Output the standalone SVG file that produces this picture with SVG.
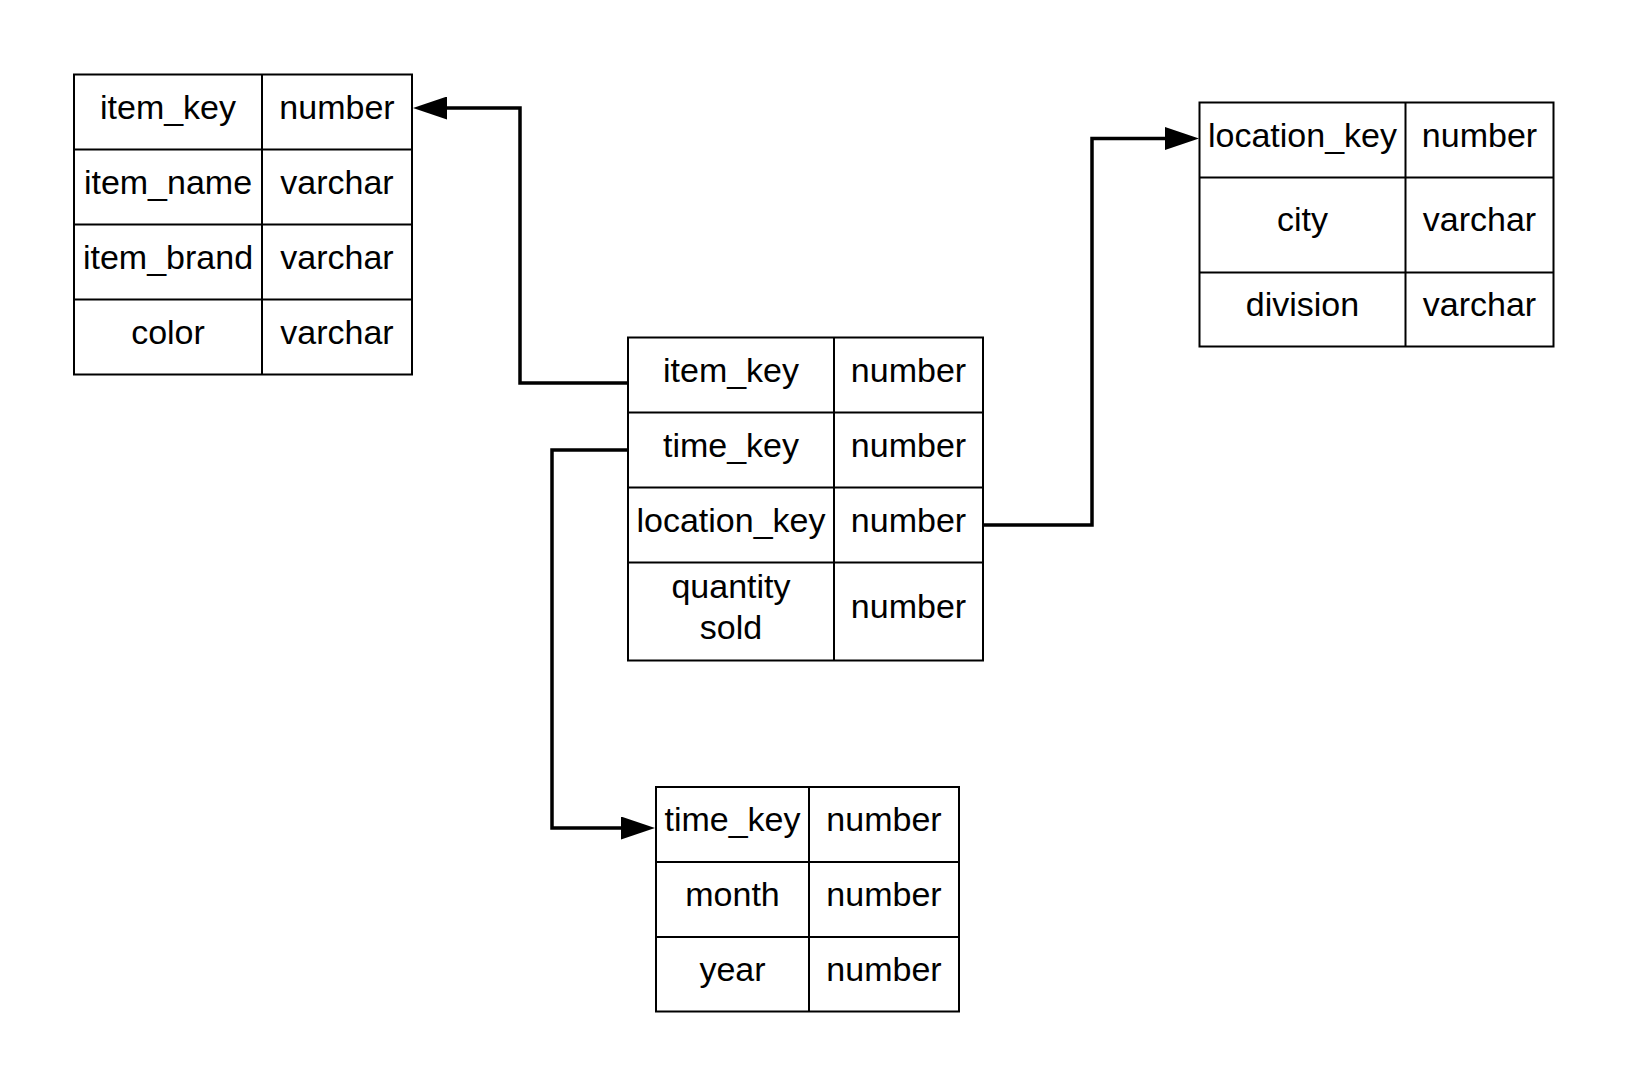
<svg xmlns="http://www.w3.org/2000/svg" width="1631" height="1088" viewBox="0 0 1631 1088">
  <style>
    .tbl { fill: #ffffff; stroke: #000000; stroke-width: 2; }
    .grid { stroke: #000000; stroke-width: 2; fill: none; }
    .t { font-family: "Liberation Sans", Arial, sans-serif; font-size: 34px; text-anchor: middle; fill: #000000; }
    .conn { fill: none; stroke: #000000; stroke-width: 3.5; stroke-linejoin: miter; }
  </style>
  <defs>
    <marker id="arrow" markerUnits="userSpaceOnUse" markerWidth="34" markerHeight="23" viewBox="0 0 34 23" refX="0" refY="11.5" orient="auto">
      <path d="M0,0 L34,11.5 L0,23 z" fill="#000000"/>
    </marker>
  </defs>
  <rect width="1631" height="1088" fill="#ffffff"/>

  <g id="connectors">
    <path class="conn" d="M628,383 H520 V108 H447" marker-end="url(#arrow)"/>
    <path class="conn" d="M983,525 H1092 V138.5 H1165" marker-end="url(#arrow)"/>
    <path class="conn" d="M628,450 H552 V828 H621" marker-end="url(#arrow)"/>
  </g>

  <g id="item">
    <rect class="tbl" x="74" y="74.5" width="338" height="300"/>
    <path class="grid" d="M262,74.5 V374.5 M74,149.5 H412 M74,224.5 H412 M74,299.5 H412"/>
    <text class="t" x="168" y="118.5">item_key</text>
    <text class="t" x="337" y="118.5">number</text>
    <text class="t" x="168" y="193.5">item_name</text>
    <text class="t" x="337" y="193.5">varchar</text>
    <text class="t" x="168" y="268.5">item_brand</text>
    <text class="t" x="337" y="268.5">varchar</text>
    <text class="t" x="168" y="343.5">color</text>
    <text class="t" x="337" y="343.5">varchar</text>
  </g>

  <g id="sales">
    <rect class="tbl" x="628" y="337.5" width="355" height="323"/>
    <path class="grid" d="M834,337.5 V660.5 M628,412.5 H983 M628,487.5 H983 M628,562.5 H983"/>
    <text class="t" x="731" y="381.5">item_key</text>
    <text class="t" x="908.5" y="381.5">number</text>
    <text class="t" x="731" y="456.5">time_key</text>
    <text class="t" x="908.5" y="456.5">number</text>
    <text class="t" x="731" y="531.5">location_key</text>
    <text class="t" x="908.5" y="531.5">number</text>
    <text class="t" x="731" y="598">quantity</text>
    <text class="t" x="731" y="638.5">sold</text>
    <text class="t" x="908.5" y="618">number</text>
  </g>

  <g id="location">
    <rect class="tbl" x="1199.5" y="102.5" width="354" height="244"/>
    <path class="grid" d="M1405.5,102.5 V346.5 M1199.5,177.5 H1553.5 M1199.5,272.5 H1553.5"/>
    <text class="t" x="1302.5" y="146.5">location_key</text>
    <text class="t" x="1479.5" y="146.5">number</text>
    <text class="t" x="1302.5" y="231">city</text>
    <text class="t" x="1479.5" y="231">varchar</text>
    <text class="t" x="1302.5" y="316">division</text>
    <text class="t" x="1479.5" y="316">varchar</text>
  </g>

  <g id="time">
    <rect class="tbl" x="656" y="787" width="303" height="224.5"/>
    <path class="grid" d="M809,787 V1011.5 M656,862 H959 M656,937 H959"/>
    <text class="t" x="732.5" y="830.5">time_key</text>
    <text class="t" x="884" y="830.5">number</text>
    <text class="t" x="732.5" y="905.5">month</text>
    <text class="t" x="884" y="905.5">number</text>
    <text class="t" x="732.5" y="980.5">year</text>
    <text class="t" x="884" y="980.5">number</text>
  </g>
</svg>
